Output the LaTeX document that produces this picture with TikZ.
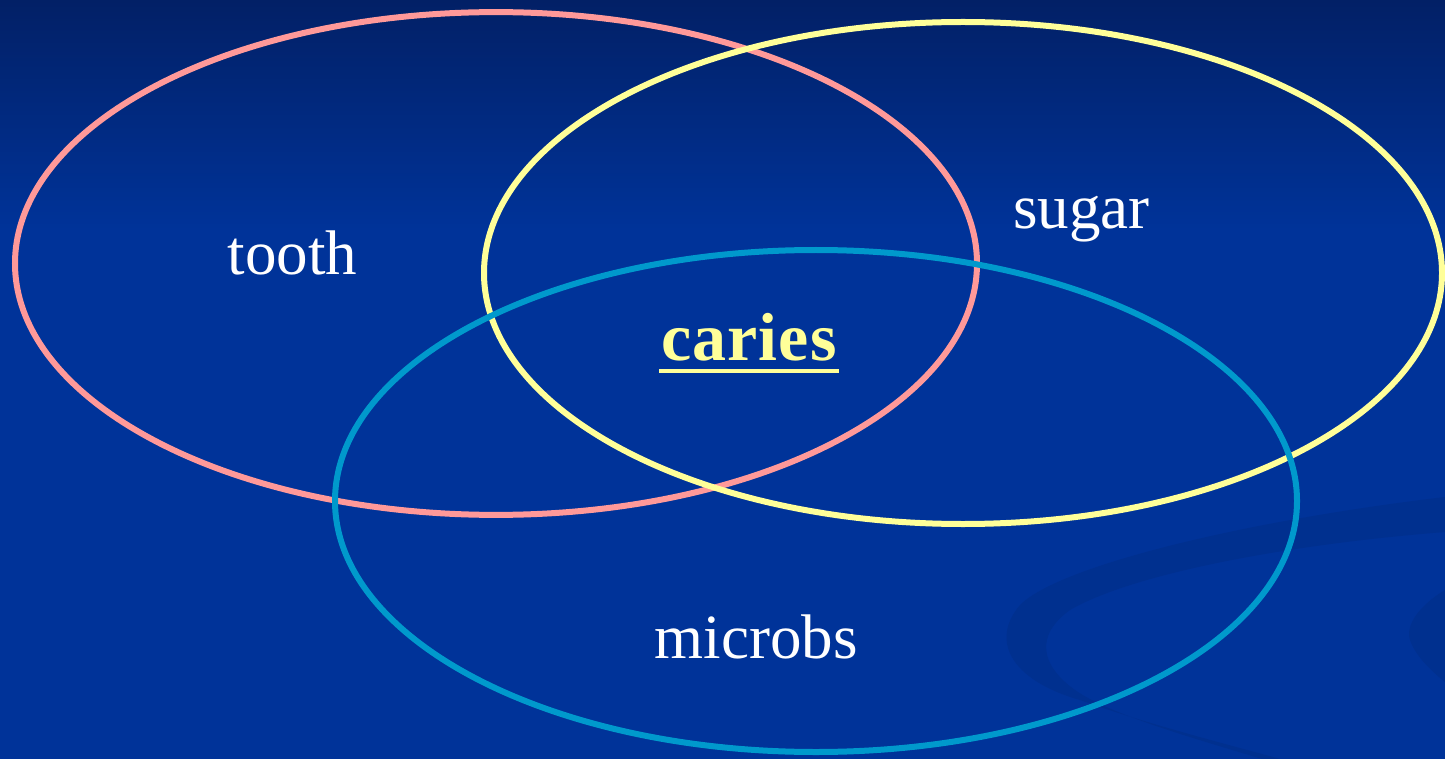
\documentclass[tikz,border=0pt]{standalone}
\usepackage{fontspec}
\setmainfont{Liberation Serif}
\definecolor{bgblue}{HTML}{003399}
\definecolor{bgtop}{HTML}{022066}
\definecolor{swirl}{HTML}{00308F}
\definecolor{pinkc}{HTML}{FF9999}
\definecolor{yellowc}{HTML}{FFFF99}
\definecolor{cyanc}{HTML}{0099CC}
\tikzset{
  ring/.style={line width=3pt},
  label/.style={text=white, font=\fontsize{31.5}{36}\selectfont, inner sep=0pt, anchor=base},
}
\begin{document}
\begin{tikzpicture}[x=0.5pt,y=-0.5pt]
\useasboundingbox (0,0) rectangle (1445,759);
% background
\fill[bgblue] (0,0) rectangle (1445,759);
\shade[top color=bgtop, bottom color=bgblue] (0,0) rectangle (1445,230);
% swirl decoration
\fill[swirl] (1445,497) .. controls (1250,520) and (1060,565) .. (1020,605)
  .. controls (990,640) and (1010,680) .. (1080,700)
  .. controls (1150,725) and (1230,745) .. (1280,759)
  -- (1262,759)
  .. controls (1200,740) and (1110,715) .. (1075,690)
  .. controls (1040,665) and (1035,635) .. (1070,610)
  .. controls (1130,575) and (1280,545) .. (1445,532) -- cycle;
\fill[swirl] (1445,590) .. controls (1420,605) and (1405,625) .. (1410,640)
  .. controls (1415,655) and (1430,670) .. (1445,682) -- cycle;
% rings
\draw[ring, pinkc] (496,263.5) ellipse [x radius=240.5pt, y radius=125.7pt];
\draw[ring, yellowc] (963,273) ellipse [x radius=239.5pt, y radius=125.5pt];
\draw[ring, cyanc] (816,501) ellipse [x radius=240.5pt, y radius=125.5pt];
% labels
\node[label] (tooth) at (292.5,275) {tooth};
\node[label] (sugar) at (1081.5,228) {sugar};
\node[label] (microbs) at (756,658) {microbs};
\node[label, text=yellowc, font=\fontsize{34}{38}\selectfont\bfseries\addfontfeature{LetterSpace=1.5}] (caries) at (749,360) {caries};
\draw[yellowc, line width=2pt] ([yshift=-5.5pt,xshift=-1pt]caries.base west) -- ([yshift=-5.5pt,xshift=1pt]caries.base east);
\end{tikzpicture}
\end{document}
